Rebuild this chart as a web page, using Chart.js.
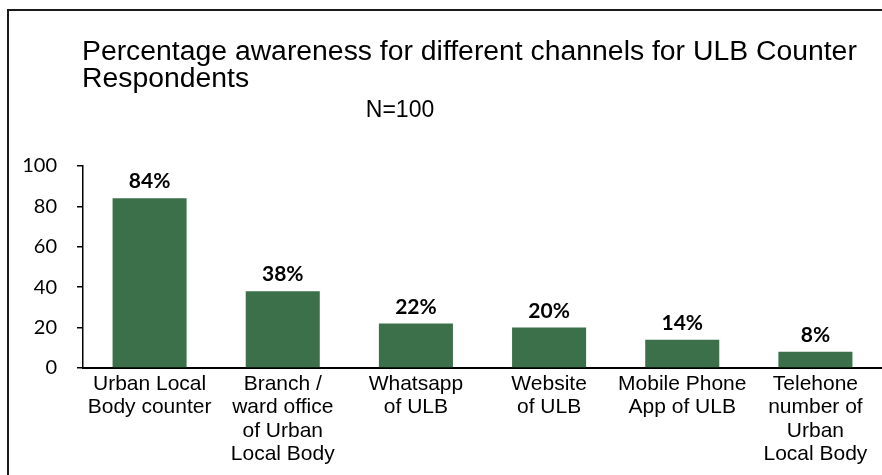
<!DOCTYPE html>
<html>
<head>
<meta charset="utf-8">
<title>Percentage awareness for different channels</title>
<script src="https://cdn.jsdelivr.net/npm/chart.js@4/dist/chart.umd.min.js"></script>
<style>
  html, body { margin: 0; padding: 0; background: #ffffff; }
  #wrap { position: relative; width: 882px; height: 475px; }
</style>
</head>
<body>
<div id="wrap"><canvas id="chart" width="882" height="475"></canvas></div>
<script>
// Channels surveyed (multi-line category labels)
const channels = [
  ['Urban Local', 'Body counter'],
  ['Branch /', 'ward office', 'of Urban', 'Local Body'],
  ['Whatsapp', 'of ULB'],
  ['Website', 'of ULB'],
  ['Mobile Phone', 'App of ULB'],
  ['Telehone', 'number of', 'Urban', 'Local Body']
];

// Share of respondents aware of each channel (%)
const awareness = [84, 38, 22, 20, 14, 8];

// Y axis range and tick step
const yTicks = { min: 0, max: 100, step: 20 };

const titleLines = [
  'Percentage awareness for different channels for ULB Counter',
  'Respondents'
];
const subtitleText = 'N=100';

const barColor = '#3b704a';

// Outer frame plus the heading text
const headingPlugin = {
  id: 'heading',
  beforeDraw(chart) {
    const ctx = chart.ctx;
    ctx.save();
    ctx.fillStyle = '#ffffff';
    ctx.fillRect(0, 0, chart.width, chart.height);
    ctx.strokeStyle = '#1a1a1a';
    ctx.lineWidth = 2;
    ctx.beginPath();
    ctx.moveTo(8, chart.height + 2);
    ctx.lineTo(8, 10);
    ctx.lineTo(chart.width + 2, 10);
    ctx.stroke();

    ctx.fillStyle = '#000000';
    ctx.textBaseline = 'alphabetic';
    ctx.textAlign = 'left';
    // Title: slightly widened glyphs
    ctx.save();
    ctx.translate(82, 0);
    ctx.scale(1.05, 1);
    ctx.font = '27px "Liberation Sans", Arial, sans-serif';
    ctx.fillText(titleLines[0], 0, 60);
    ctx.fillText(titleLines[1], 0, 87);
    ctx.restore();
    ctx.textAlign = 'center';
    ctx.font = '23px "Liberation Sans", Arial, sans-serif';
    ctx.fillText(subtitleText, 400, 117);
    ctx.restore();
  }
};

// Percentage labels above each bar
const valueLabelPlugin = {
  id: 'valueLabels',
  afterDatasetsDraw(chart) {
    const ctx = chart.ctx;
    const meta = chart.getDatasetMeta(0);
    const data = chart.data.datasets[0].data;
    ctx.save();
    ctx.fillStyle = '#000000';
    ctx.font = 'bold 21px Lato, "Open Sans", sans-serif';
    ctx.textAlign = 'center';
    ctx.textBaseline = 'alphabetic';
    meta.data.forEach((bar, i) => {
      ctx.fillText(data[i] + '%', bar.x, bar.y - 10);
    });
    ctx.restore();
  }
};

new Chart(document.getElementById('chart'), {
  type: 'bar',
  data: {
    labels: channels,
    datasets: [{
      data: awareness,
      backgroundColor: barColor,
      borderWidth: 0,
      categoryPercentage: 1.0,
      barPercentage: 0.556
    }]
  },
  options: {
    responsive: false,
    animation: false,
    devicePixelRatio: 1,
    layout: { padding: { top: 166, left: 0, right: 0, bottom: 0 } },
    plugins: {
      legend: { display: false },
      title: { display: false },
      tooltip: { enabled: false }
    },
    scales: {
      x: {
        grid: { display: false, drawTicks: false },
        border: { display: true, color: '#000000', width: 2 },
        ticks: {
          color: '#000000',
          padding: 5,
          maxRotation: 0,
          autoSkip: false,
          font: { family: '"Liberation Sans", Arial, sans-serif', size: 21, lineHeight: 1.1 }
        },
        afterFit(scale) { scale.height = 107; }
      },
      y: {
        min: yTicks.min,
        max: yTicks.max,
        grid: {
          drawOnChartArea: false,
          drawTicks: true,
          tickLength: 6,
          color: '#000000',
          lineWidth: 1.5
        },
        border: { display: true, color: '#000000', width: 1.5 },
        ticks: {
          stepSize: yTicks.step,
          color: '#000000',
          padding: 20,
          font: { family: 'Lato, "Open Sans", sans-serif', size: 20 }
        },
        afterFit(scale) { scale.width = 83; }
      }
    }
  },
  plugins: [headingPlugin, valueLabelPlugin]
});
</script>
</body>
</html>
